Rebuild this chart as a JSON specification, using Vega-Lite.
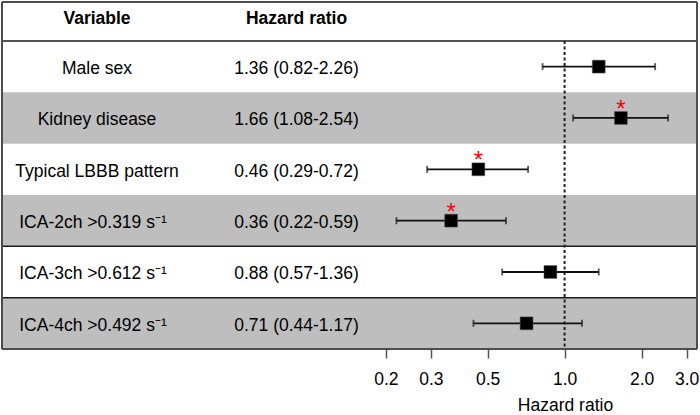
{
  "$schema": "https://vega.github.io/schema/vega-lite/v6.json",
  "padding": {"left": 1, "top": 1, "right": 0, "bottom": 0},
  "bounds": "flush",
  "spacing": 0,
  "config": {
    "font": "Liberation Sans",
    "view": {"stroke": null},
    "concat": {"spacing": 0}
  },
  "datasets": {
    "rows": [
      {"row": 1, "variable": "Male sex", "hr": 1.36, "lo": 0.82, "hi": 2.26, "label": "1.36 (0.82-2.26)"},
      {"row": 2, "variable": "Kidney disease", "hr": 1.66, "lo": 1.08, "hi": 2.54, "label": "1.66 (1.08-2.54)"},
      {"row": 3, "variable": "Typical LBBB pattern", "hr": 0.46, "lo": 0.29, "hi": 0.72, "label": "0.46 (0.29-0.72)"},
      {"row": 4, "variable": "ICA-2ch >0.319 s⁻¹", "hr": 0.36, "lo": 0.22, "hi": 0.59, "label": "0.36 (0.22-0.59)"},
      {"row": 5, "variable": "ICA-3ch >0.612 s⁻¹", "hr": 0.88, "lo": 0.57, "hi": 1.36, "label": "0.88 (0.57-1.36)"},
      {"row": 6, "variable": "ICA-4ch >0.492 s⁻¹", "hr": 0.71, "lo": 0.44, "hi": 1.17, "label": "0.71 (0.44-1.17)"}
    ],
    "lines": [{"at": 0.5}, {"at": 4.5}, {"at": 5.5}],
    "frame": [{"at": -0.2588}, {"at": 6.5}]
  },
  "hconcat": [
    {
      "width": 190,
      "height": 347,
      "layer": [
        {
          "data": {"name": "rows"},
          "transform": [{"filter": "datum.row % 2 == 0"}],
          "mark": {"type": "rect", "height": 51.34, "color": "#bebebe"},
          "encoding": {
            "y": {"field": "row", "type": "quantitative", "scale": {"domain": [-0.2588, 6.5], "reverse": true, "nice": false, "zero": false}, "axis": null}
          }
        },
        {
          "data": {"name": "lines"},
          "mark": {"type": "rule", "color": "#1a1a1a", "strokeWidth": 1.5},
          "encoding": {"y": {"field": "at", "type": "quantitative"}}
        },
        {
          "data": {"name": "frame"},
          "mark": {"type": "rule", "color": "#4d4d4d", "strokeWidth": 2},
          "encoding": {"y": {"field": "at", "type": "quantitative"}}
        },
        {
          "data": {"values": [{"a": 1}]},
          "mark": {"type": "rule", "color": "#4d4d4d", "strokeWidth": 2},
          "encoding": {"x": {"value": 0}, "y": {"datum": -0.2588}, "y2": {"datum": 6.5}}
        },
        {
          "data": {"values": [{"a": 1}]},
          "mark": {"type": "text", "text": "Variable", "fontSize": 17.5, "fontWeight": "bold", "baseline": "alphabetic", "dy": 8.4, "color": "black"},
          "encoding": {"y": {"datum": 0}}
        },
        {
          "data": {"name": "rows"},
          "transform": [{"filter": "datum.row < 4"}],
          "mark": {"type": "text", "fontSize": 17.5, "baseline": "alphabetic", "dy": 7.3, "color": "black"},
          "encoding": {
            "y": {"field": "row", "type": "quantitative"},
            "text": {"field": "variable"}
          }
        },
        {
          "data": {"name": "rows"},
          "transform": [{"filter": "datum.row >= 4"}],
          "mark": {"type": "text", "fontSize": 17.5, "baseline": "alphabetic", "dy": 7.3, "dx": -4, "color": "black"},
          "encoding": {
            "y": {"field": "row", "type": "quantitative"},
            "text": {"field": "variable"}
          }
        }
      ]
    },
    {
      "width": 180,
      "height": 347,
      "layer": [
        {
          "data": {"name": "rows"},
          "transform": [{"filter": "datum.row % 2 == 0"}],
          "mark": {"type": "rect", "height": 51.34, "color": "#bebebe"},
          "encoding": {
            "y": {"field": "row", "type": "quantitative", "scale": {"domain": [-0.2588, 6.5], "reverse": true, "nice": false, "zero": false}, "axis": null}
          }
        },
        {
          "data": {"name": "lines"},
          "mark": {"type": "rule", "color": "#1a1a1a", "strokeWidth": 1.5},
          "encoding": {"y": {"field": "at", "type": "quantitative"}}
        },
        {
          "data": {"name": "frame"},
          "mark": {"type": "rule", "color": "#4d4d4d", "strokeWidth": 2},
          "encoding": {"y": {"field": "at", "type": "quantitative"}}
        },
        {
          "data": {"values": [{"a": 1}]},
          "mark": {"type": "text", "text": "Hazard ratio", "fontSize": 17.5, "fontWeight": "bold", "baseline": "alphabetic", "dy": 8.4, "dx": 14.5, "color": "black"},
          "encoding": {"y": {"datum": 0}}
        },
        {
          "data": {"name": "rows"},
          "mark": {"type": "text", "fontSize": 17.5, "baseline": "alphabetic", "dy": 7.3, "dx": 14.5, "color": "black"},
          "encoding": {
            "y": {"field": "row", "type": "quantitative"},
            "text": {"field": "label"}
          }
        }
      ]
    },
    {
      "width": 325,
      "height": 347,
      "layer": [
        {
          "data": {"name": "rows"},
          "transform": [{"filter": "datum.row % 2 == 0"}],
          "mark": {"type": "rect", "height": 51.34, "color": "#bebebe"},
          "encoding": {
            "y": {"field": "row", "type": "quantitative", "scale": {"domain": [-0.2588, 6.5], "reverse": true, "nice": false, "zero": false}, "axis": null}
          }
        },
        {
          "data": {"name": "lines"},
          "mark": {"type": "rule", "color": "#1a1a1a", "strokeWidth": 1.5},
          "encoding": {"y": {"field": "at", "type": "quantitative"}}
        },
        {
          "data": {"name": "frame"},
          "mark": {"type": "rule", "color": "#4d4d4d", "strokeWidth": 2},
          "encoding": {"y": {"field": "at", "type": "quantitative"}}
        },
        {
          "data": {"values": [{"a": 1}]},
          "mark": {"type": "rule", "color": "#4d4d4d", "strokeWidth": 2},
          "encoding": {
            "x": {"datum": 3.2944, "type": "quantitative", "scale": {"type": "log", "domain": [0.17653, 3.2944], "nice": false, "zero": false},
              "axis": {"values": [0.2, 0.3, 0.5, 1, 2, 3], "format": ".1f", "title": "Hazard ratio", "domain": false, "grid": false,
                "ticks": true, "tickSize": 9, "tickColor": "#555555", "tickWidth": 1.5,
                "labelFontSize": 17.5, "labelColor": "black", "labelBaseline": "alphabetic", "labelPadding": 26, "labelFont": "Liberation Sans",
                "titleFontSize": 17.5, "titleFontWeight": "normal", "titleColor": "black", "titleFont": "Liberation Sans",
                "titleX": 193, "titleY": 61, "titleBaseline": "alphabetic", "titleAlign": "center"}},
            "y": {"datum": -0.2588},
            "y2": {"datum": 6.5}
          }
        },
        {
          "data": {"values": [{"a": 1}]},
          "mark": {"type": "rule", "color": "#222222", "strokeWidth": 2, "strokeDash": [3, 2.5]},
          "encoding": {"x": {"datum": 1}, "y": {"datum": 0.5}, "y2": {"datum": 6.5}}
        },
        {
          "data": {"name": "rows"},
          "mark": {"type": "rule", "color": "#111111", "strokeWidth": 1.8},
          "encoding": {
            "x": {"field": "lo", "type": "quantitative"},
            "x2": {"field": "hi"},
            "y": {"field": "row", "type": "quantitative"}
          }
        },
        {
          "data": {"name": "rows"},
          "mark": {"type": "tick", "orient": "vertical", "color": "#111111", "size": 7, "thickness": 1.8},
          "encoding": {
            "x": {"field": "lo", "type": "quantitative"},
            "y": {"field": "row", "type": "quantitative"}
          }
        },
        {
          "data": {"name": "rows"},
          "mark": {"type": "tick", "orient": "vertical", "color": "#111111", "size": 7, "thickness": 1.8},
          "encoding": {
            "x": {"field": "hi", "type": "quantitative"},
            "y": {"field": "row", "type": "quantitative"}
          }
        },
        {
          "data": {"name": "rows"},
          "mark": {"type": "point", "shape": "square", "filled": true, "color": "black", "size": 165, "opacity": 1, "stroke": "#555555", "strokeWidth": 0.5},
          "encoding": {
            "x": {"field": "hr", "type": "quantitative"},
            "y": {"field": "row", "type": "quantitative"}
          }
        },
        {
          "data": {"name": "rows"},
          "transform": [{"filter": "datum.hi < 1 || datum.lo > 1"}],
          "mark": {"type": "text", "text": "*", "color": "#ff0000", "fontSize": 24, "baseline": "alphabetic", "dy": -1},
          "encoding": {
            "x": {"field": "hr", "type": "quantitative"},
            "y": {"field": "row", "type": "quantitative"}
          }
        }
      ]
    }
  ]
}
